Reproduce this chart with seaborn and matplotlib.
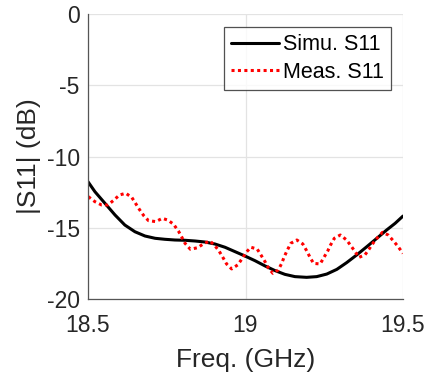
import numpy as np
import pandas as pd
import seaborn as sns
import matplotlib
matplotlib.use("Agg")
import matplotlib.pyplot as plt

# Simulated |S11| (dB) vs frequency (GHz)
sim_freq = [18.500, 18.522, 18.554, 18.586, 18.617, 18.649, 18.681, 18.713,
            18.744, 18.776, 18.808, 18.840, 18.871, 18.903, 18.935, 18.967,
            18.998, 19.030, 19.062, 19.094, 19.125, 19.157, 19.194, 19.226,
            19.258, 19.290, 19.321, 19.353, 19.385, 19.417, 19.448, 19.475,
            19.500]
sim_s11 = [-11.77, -12.47, -13.29, -14.11, -14.81, -15.28, -15.58, -15.74,
           -15.81, -15.86, -15.88, -15.93, -16.00, -16.14, -16.37, -16.68,
           -16.98, -17.31, -17.68, -18.01, -18.27, -18.43, -18.48, -18.43,
           -18.25, -17.92, -17.45, -16.91, -16.33, -15.74, -15.16, -14.69,
           -14.18]

# Measured |S11| (dB) vs frequency (GHz)
meas_freq = [18.501, 18.522, 18.543, 18.563, 18.580, 18.600, 18.620, 18.639,
             18.651, 18.663, 18.677, 18.692, 18.715, 18.736, 18.753, 18.771,
             18.787, 18.797, 18.808, 18.825, 18.848, 18.869, 18.887, 18.901,
             18.916, 18.930, 18.940, 18.956, 18.975, 18.990, 19.004, 19.017,
             19.037, 19.049, 19.062, 19.072, 19.087, 19.104, 19.115, 19.123,
             19.133, 19.144, 19.163, 19.182, 19.194, 19.205, 19.216, 19.237,
             19.249, 19.261, 19.270, 19.282, 19.301, 19.321, 19.335, 19.348,
             19.360, 19.379, 19.392, 19.406, 19.420, 19.435, 19.453, 19.469,
             19.483, 19.500]
meas_s11 = [-12.82, -13.17, -13.40, -13.40, -13.10, -12.70, -12.58, -12.87,
            -13.29, -13.71, -14.15, -14.50, -14.57, -14.34, -14.46, -14.74,
            -15.23, -15.63, -16.09, -16.51, -16.40, -16.09, -15.93, -16.21,
            -16.63, -17.15, -17.54, -17.89, -17.61, -17.15, -16.68, -16.37,
            -16.49, -16.91, -17.38, -17.80, -18.20, -17.96, -17.50, -17.03,
            -16.56, -16.09, -15.86, -16.14, -16.61, -17.08, -17.50, -17.54,
            -17.08, -16.63, -16.21, -15.74, -15.51, -15.86, -16.28, -16.68,
            -17.08, -16.91, -16.51, -16.05, -15.67, -15.32, -15.51, -15.91,
            -16.28, -16.80]

series_names = ["Simu. S11", "Meas. S11"]
x_ticks = [18.5, 19.0, 19.5]
x_tick_labels = ["18.5", "19", "19.5"]
y_ticks = [-20, -15, -10, -5, 0]

df = pd.concat([
    pd.DataFrame({"freq": sim_freq, "s11": sim_s11, "series": series_names[0]}),
    pd.DataFrame({"freq": meas_freq, "s11": meas_s11, "series": series_names[1]}),
], ignore_index=True)

sns.set_theme(style="white")
plt.rcParams["font.family"] = ["Liberation Sans", "DejaVu Sans"]
plt.rcParams["axes.unicode_minus"] = False

fig = plt.figure(figsize=(4.25, 3.77), dpi=100)
ax = fig.add_axes([88 / 425, 78 / 377, 315 / 425, 285 / 377])

sns.lineplot(data=df, x="freq", y="s11", hue="series", style="series",
             hue_order=series_names, style_order=series_names,
             palette={series_names[0]: "black", series_names[1]: "#ff0000"},
             dashes={series_names[0]: "", series_names[1]: (1.0, 1.1)},
             linewidth=2.2, ax=ax, sort=False, estimator=None)

for line in ax.get_lines():
    line.set_dash_capstyle("butt")

ax.set_xlim(18.5, 19.5)
ax.set_ylim(-20, 0)
ax.set_xticks(x_ticks)
ax.set_xticklabels(x_tick_labels)
ax.set_yticks(y_ticks)
ax.grid(True, color="#e3e3e3", linewidth=0.9)
ax.set_axisbelow(True)

for side in ("top", "right"):
    ax.spines[side].set_visible(False)
for side in ("left", "bottom"):
    ax.spines[side].set_color("#555555")
    ax.spines[side].set_linewidth(0.9)

ax.tick_params(axis="both", direction="in", length=4, width=0.8,
               color="#555555", labelsize=16.5, labelcolor="#262626", pad=6)
ax.tick_params(axis="x", pad=11)

ax.set_xlabel("Freq. (GHz)", fontsize=19, color="#262626", labelpad=8)
ax.set_ylabel("|S11| (dB)", fontsize=19, color="#262626", labelpad=4)

leg = ax.legend(loc="upper right", bbox_to_anchor=(391 / 425, 350 / 377),
                bbox_transform=fig.transFigure, fontsize=15.5,
                frameon=True, fancybox=False, handlelength=2.2,
                handletextpad=0.2, borderpad=0.33, labelspacing=0.3,
                borderaxespad=0)
leg.get_frame().set_edgecolor("#262626")
leg.get_frame().set_linewidth(0.9)
for h in leg.get_lines():
    h.set_linewidth(2.2)
    h.set_dash_capstyle("butt")
for t in leg.get_texts():
    t.set_color("black")

fig.savefig("out.png", dpi=100, facecolor="white")
